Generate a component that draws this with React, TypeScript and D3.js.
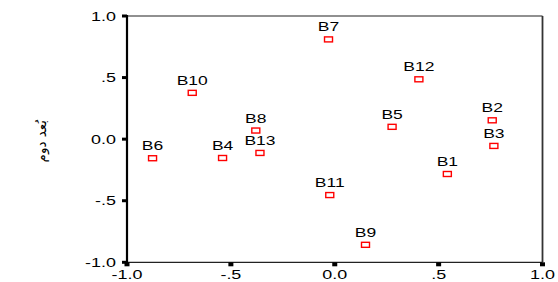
import React, { useRef, useEffect } from "react";
import * as d3 from "d3";

const names = ["B1", "B2", "B3", "B4", "B5", "B6", "B7", "B8", "B9", "B10", "B11", "B12", "B13"];
const dim1 = [0.542, 0.758, 0.766, -0.54, 0.276, -0.877, -0.03, -0.38, 0.148, -0.686, -0.024, 0.405, -0.36];
const dim2 = [-0.283, 0.153, -0.055, -0.153, 0.1, -0.155, 0.81, 0.07, -0.858, 0.376, -0.454, 0.486, -0.112];
const tickValues = [-1, -0.5, 0, 0.5, 1];
const tickLabels = ["-1.0", "-.5", "0.0", ".5", "1.0"];
const yTitle = "بُعد دوم";

const App = () => {
  const svgRef = useRef<SVGSVGElement>(null);
  const width = 558;
  const height = 282;
  const margin = { top: 16, right: 15.5, bottom: 19.7, left: 127 };
  const font = "Liberation Sans, Arial, sans-serif";

  useEffect(() => {
    const svg = d3.select(svgRef.current);
    svg.selectAll("*").remove();

    const x = d3.scaleLinear().domain([-1, 1]).range([margin.left, width - margin.right]);
    const y = d3.scaleLinear().domain([-1, 1]).range([height - margin.bottom, margin.top]);

    // frame
    svg.append("line").attr("x1", x(-1)).attr("x2", x(1)).attr("y1", y(1)).attr("y2", y(1))
      .attr("stroke", "#222").attr("stroke-width", 1.2);
    svg.append("line").attr("x1", x(1)).attr("x2", x(1)).attr("y1", y(1)).attr("y2", y(-1))
      .attr("stroke", "#333").attr("stroke-width", 1.8);
    svg.append("line").attr("x1", x(-1)).attr("x2", x(1)).attr("y1", y(-1)).attr("y2", y(-1))
      .attr("stroke", "#222").attr("stroke-width", 1.2);
    svg.append("line").attr("x1", x(-1)).attr("x2", x(-1)).attr("y1", y(1) - 1).attr("y2", y(-1) + 1)
      .attr("stroke", "#000").attr("stroke-width", 2.2);

    // y ticks
    svg.selectAll(".ytick").data(tickValues).enter().append("rect")
      .attr("x", x(-1) - 5).attr("y", (d) => y(d) - 1.5).attr("width", 5).attr("height", 3)
      .attr("fill", "#000");
    svg.selectAll(".ylab").data(tickValues).enter().append("text")
      .attr("transform", (d) => `translate(${x(-1) - 11},${y(d)}) scale(1.38,1)`)
      .attr("dy", "0.36em")
      .attr("text-anchor", "end").style("font-family", font)
      .style("font-size", "13px").attr("fill", "#000")
      .text((d, i) => tickLabels[i]);

    // x ticks
    svg.selectAll(".xtick").data(tickValues).enter().append("rect")
      .attr("x", (d) => x(d) - 2.5).attr("y", y(-1)).attr("width", 5).attr("height", 4)
      .attr("fill", "#000");
    svg.selectAll(".xlab").data(tickValues).enter().append("text")
      .attr("transform", (d) => `translate(${x(d)},${y(-1) + 17}) scale(1.38,1)`)
      .attr("text-anchor", "middle").style("font-family", font)
      .style("font-size", "13px").attr("fill", "#000")
      .text((d, i) => tickLabels[i]);

    // y title
    svg.append("text")
      .attr("transform", `translate(46, ${y(0) + 2}) rotate(-90)`)
      .attr("text-anchor", "middle")
      .style("font-family", "DejaVu Sans, sans-serif").style("font-size", "13.5px")
      .attr("fill", "#000").attr("direction", "rtl")
      .text(yTitle);

    const pts = names.map((n, i) => ({ name: n, a: dim1[i], b: dim2[i] }));

    svg.selectAll(".pt").data(pts).enter().append("rect")
      .attr("x", (d) => x(d.a) - 4).attr("y", (d) => y(d.b) - 2.5)
      .attr("width", 8).attr("height", 5)
      .attr("fill", "#fff").attr("stroke", "#ff0000").attr("stroke-width", 1.4);

    svg.selectAll(".lbl").data(pts).enter().append("text")
      .attr("transform", (d) => `translate(${x(d.a)},${y(d.b) - 8}) scale(1.4,1)`)
      .attr("text-anchor", "middle").style("font-family", font)
      .style("font-size", "12.5px").attr("fill", "#000")
      .text((d) => d.name);
  }, []);

  return (
    <svg
      ref={svgRef}
      width={width}
      height={height}
      style={{ position: "absolute", left: 0, top: 0, background: "#fff" }}
    ></svg>
  );
};

export default App;
